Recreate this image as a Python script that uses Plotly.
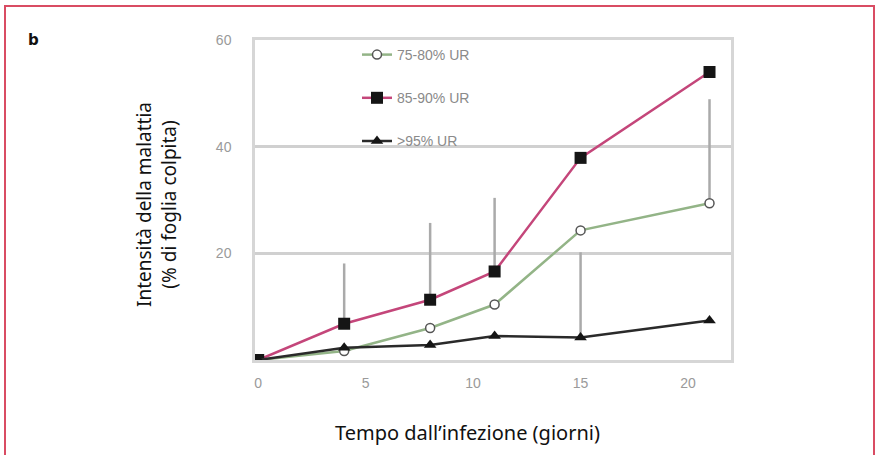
import plotly.graph_objects as go

# ---- data ----
days = [0, 4, 8, 11, 15, 21]
ur_75_80 = [0, 1.7, 6.0, 10.4, 24.3, 29.4]
ur_85_90 = [0, 6.8, 11.3, 16.6, 37.9, 54.0]
ur_95 = [0, 2.3, 2.8, 4.5, 4.2, 7.4]
err_75_80 = [0, 0, 0, 0, 0, 19.5]
err_85_90 = [0, 11.3, 14.4, 13.8, 0, 0]
err_95 = [0, 0, 0, 0, 16.0, 0]
series_names = ["75-80% UR", "85-90% UR", ">95% UR"]
x_ticks = [0, 5, 10, 15, 20]
y_ticks = [20, 40, 60]

W, H = 876, 455
PL, PR, PT, PB = 255, 731, 40, 360  # plot area in pixels
L, R, T, B = PL, W - PR, PT, H - PB
pw, ph = PR - PL, PB - PT


def px_x(p):
    return (p - PL) / pw


def px_y(p):
    return (PB - p) / ph


err_style = dict(type="data", symmetric=False, color="#aaaaaa", thickness=2.5, width=0)

fig = go.Figure()
fig.add_trace(go.Scatter(
    x=days, y=ur_75_80, name=series_names[0], mode="lines+markers",
    legendgroup="a",
    line=dict(color="#93b487", width=2.5),
    marker=dict(symbol="circle", size=9, color="white", line=dict(color="#555555", width=1.5)),
    error_y=dict(array=err_75_80, arrayminus=[0] * len(days), **err_style),
))
fig.add_trace(go.Scatter(
    x=days, y=ur_85_90, name=series_names[1], mode="lines+markers",
    legendgroup="b",
    line=dict(color="#c4467a", width=2.5),
    marker=dict(symbol="square", size=12, color="#151515"),
    error_y=dict(array=err_85_90, arrayminus=[0] * len(days), **err_style),
))
fig.add_trace(go.Scatter(
    x=days, y=ur_95, name=series_names[2], mode="lines+markers",
    legendgroup="c",
    line=dict(color="#2a2a2a", width=2.5),
    marker=dict(symbol="triangle-up", size=11, color="#151515"),
    error_y=dict(array=err_95, arrayminus=[0] * len(days), **err_style),
))

axis_common = dict(
    showline=True, linecolor="#d6d6d6", linewidth=2.5, mirror=True,
    tickfont=dict(family="Liberation Sans, Arial", size=14, color="#9a9a9a"),
    zeroline=False, ticks="",
)

fig.update_layout(
    width=W, height=H,
    margin=dict(l=L, r=R, t=T, b=B, autoexpand=False),
    paper_bgcolor="white", plot_bgcolor="white",
    showlegend=True,
    legend=dict(
        x=px_x(357), y=px_y(39), xanchor="left", yanchor="top",
        bgcolor="rgba(0,0,0,0)", tracegroupgap=22,
        font=dict(family="Liberation Sans, Arial", size=14, color="#8a8a8a"),
        itemsizing="trace",
    ),
    xaxis=dict(range=[-0.15, 22.0], tickvals=x_ticks, showgrid=False,
               ticklabelstandoff=8, **axis_common),
    yaxis=dict(range=[0, 60], tickvals=y_ticks, showgrid=True,
               gridcolor="#d0d0d0", gridwidth=3,
               ticklabelstandoff=18, **axis_common),
    annotations=[
        dict(text="<b>b</b>", x=px_x(33), y=px_y(40), xref="paper", yref="paper",
             showarrow=False, xanchor="center", yanchor="middle",
             font=dict(family="DejaVu Sans", size=15, color="#111111")),
        dict(text="Tempo dall\u2019infezione (giorni)", x=px_x(467), y=px_y(432),
             xref="paper", yref="paper", showarrow=False,
             xanchor="center", yanchor="middle",
             font=dict(family="Noto Sans", size=20, color="#111111")),
        dict(text="Intensità della malattia<br>(% di foglia colpita)",
             x=px_x(156), y=px_y(205), xref="paper", yref="paper",
             showarrow=False, textangle=-90, xanchor="center", yanchor="middle",
             font=dict(family="Noto Sans", size=19, color="#111111")),
    ],
    shapes=[
        dict(type="rect", xref="paper", yref="paper",
             x0=px_x(5), x1=px_x(874), y0=px_y(470), y1=px_y(6),
             line=dict(color="#d94c63", width=2), fillcolor="rgba(0,0,0,0)",
             layer="above"),
    ],
)

fig.write_html(
    "out.html",
    config={"displayModeBar": False},
    post_script="document.body.style.margin='0';document.body.style.overflow='hidden';",
)
